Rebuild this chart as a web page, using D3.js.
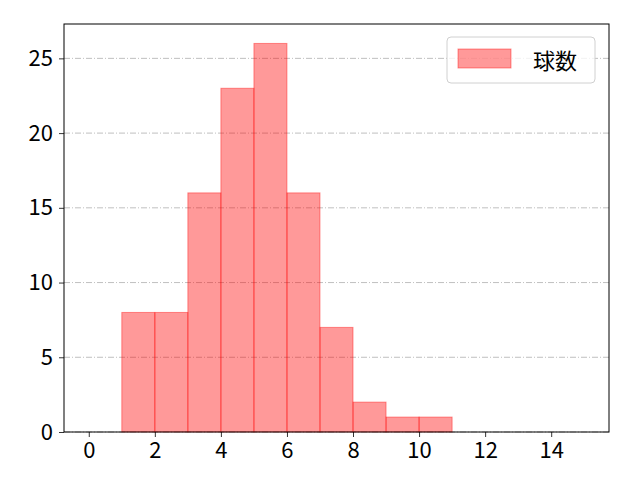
<!DOCTYPE html>
<html>
<head>
<meta charset="utf-8">
<script src="https://cdn.jsdelivr.net/npm/d3@7"></script>
<style>
  body { margin: 0; background: #fff; }
  text { font-family: "Noto Sans CJK JP", "DejaVu Sans", sans-serif; }
</style>
</head>
<body>
<div id="chart"></div>
<script>
// histogram bins (left edges, width 1) and counts
let binStarts = [0, 1, 2, 3, 4, 5, 6, 7, 8, 9, 10, 11, 12, 13, 14];
let counts = [0, 8, 8, 16, 23, 26, 16, 7, 2, 1, 1, 0, 0, 0, 0];
let xTicks = [0, 2, 4, 6, 8, 10, 12, 14];
let yTicks = [0, 5, 10, 15, 20, 25];
let seriesName = "球数";

let width = 640,
    height = 480;
let margin = {top: 24, right: 31, bottom: 48, left: 64};
let innerW = width - margin.left - margin.right,
    innerH = height - margin.top - margin.bottom;

let svg = d3.select("#chart")
    .append("svg")
    .attr("width", width)
    .attr("height", height);

let g = svg.append("g")
    .attr("transform", `translate(${margin.left}, ${margin.top})`);

let x = d3.scaleLinear()
    .domain([-0.75, 15.75])
    .range([0, innerW]);

let y = d3.scaleLinear()
    .domain([0, 26 * 1.05])
    .range([innerH, 0]);

// horizontal dash-dot grid
g.append("g")
    .selectAll("line")
    .data(yTicks)
    .enter()
    .append("line")
    .attr("x1", 0)
    .attr("x2", innerW)
    .attr("y1", d => y(d))
    .attr("y2", d => y(d))
    .attr("stroke", "#b0b0b0")
    .attr("stroke-width", 0.8)
    .attr("stroke-dasharray", "6,2,1,2");

// bars
g.append("g")
    .selectAll("rect")
    .data(binStarts.map((s, i) => ({start: s, value: counts[i]})))
    .enter()
    .append("rect")
    .attr("x", d => x(d.start))
    .attr("y", d => y(d.value))
    .attr("width", d => x(d.start + 1) - x(d.start))
    .attr("height", d => y(0) - y(d.value))
    .attr("fill", "red")
    .attr("fill-opacity", 0.4)
    .attr("stroke", "red")
    .attr("stroke-opacity", 0.4)
    .attr("stroke-width", 1);

// axes
let xAxis = g.append("g")
    .attr("transform", `translate(0, ${innerH})`)
    .call(d3.axisBottom(x).tickValues(xTicks).tickSize(5).tickPadding(5).tickFormat(d3.format("d")));

let yAxis = g.append("g")
    .call(d3.axisLeft(y).tickValues(yTicks).tickSize(5).tickPadding(6).tickFormat(d3.format("d")));

[xAxis, yAxis].forEach(a => {
    a.select(".domain").remove();
    a.selectAll("line").attr("stroke", "#000").attr("stroke-width", 0.8);
    a.selectAll("text")
        .attr("fill", "#000")
        .style("font-size", "22px")
        .style("font-family", "'Noto Sans CJK JP', sans-serif");
});

// frame
g.append("rect")
    .attr("x", 0)
    .attr("y", 0)
    .attr("width", innerW)
    .attr("height", innerH)
    .attr("fill", "none")
    .attr("stroke", "#000")
    .attr("stroke-width", 1);

// legend
let legend = svg.append("g")
    .attr("transform", "translate(447, 37)");
legend.append("rect")
    .attr("width", 148)
    .attr("height", 46)
    .attr("rx", 4)
    .attr("fill", "#fff")
    .attr("fill-opacity", 0.8)
    .attr("stroke", "#d0d0d0")
    .attr("stroke-width", 1);
legend.append("rect")
    .attr("x", 11)
    .attr("y", 12)
    .attr("width", 53)
    .attr("height", 19)
    .attr("fill", "red")
    .attr("fill-opacity", 0.4)
    .attr("stroke", "red")
    .attr("stroke-opacity", 0.4);
legend.append("text")
    .attr("x", 86)
    .attr("y", 22)
    .attr("dominant-baseline", "central")
    .style("font-size", "22px")
    .text(seriesName);
</script>
</body>
</html>
